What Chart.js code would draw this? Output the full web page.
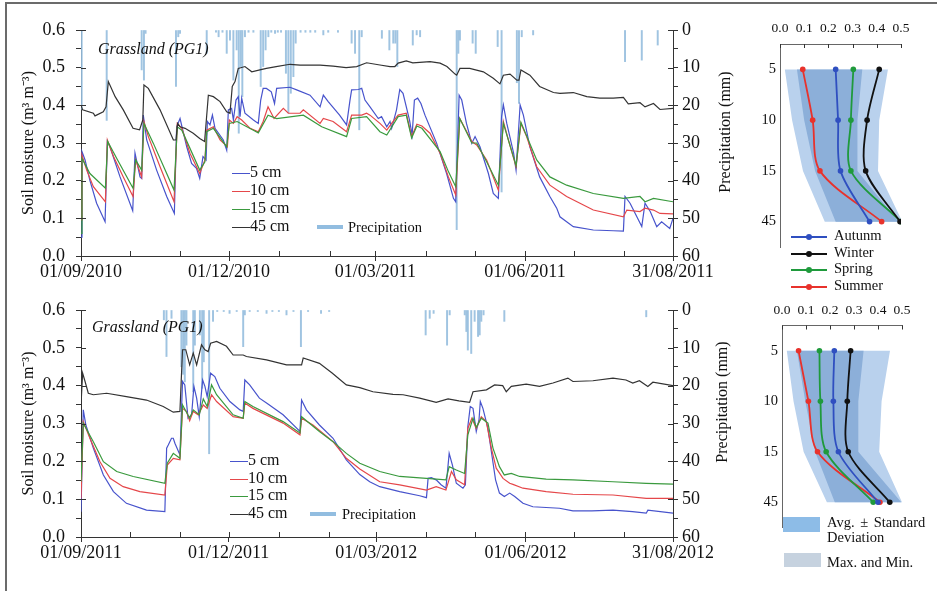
<!DOCTYPE html>
<html>
<head>
<meta charset="utf-8">
<script src="https://cdn.jsdelivr.net/npm/chart.js@4/dist/chart.umd.min.js"></script>
<style>
	body { margin: 0; background: #fff; width: 937px; height: 591px; overflow: hidden; position: relative;
		font-family: 'Liberation Serif', 'Times New Roman', serif; color: #111; }
	.box { position: absolute; }
	.frame { position: absolute; left: 5px; top: 2px; width: 960px; height: 620px;
		border-top: 2px solid #6b6b6b; border-left: 2px solid #6b6b6b; }
	.txt { position: absolute; white-space: nowrap; height: 18px; line-height: 18px; }
	.vtxt { position: absolute; white-space: nowrap; height: 20px; line-height: 20px; font-size: 16px;
		transform: translate(-50%, -50%) rotate(-90deg); }
	.line { position: absolute; height: 1px; }
	.dot { position: absolute; width: 6px; height: 6px; border-radius: 3px; }
	.swatch { position: absolute; }
</style>
</head>
<body>
<div class="frame"></div>
<div class="box" style="left:0;top:0"><canvas id="series-top" width="737" height="300"></canvas></div>
<div class="box" style="left:0;top:280px"><canvas id="series-bottom" width="737" height="301"></canvas></div>
<div class="box" style="left:740px;top:0"><canvas id="profile-top" width="197" height="300"></canvas></div>
<div class="box" style="left:740px;top:281px"><canvas id="profile-bottom" width="197" height="300"></canvas></div>
<script>
'use strict';

// ---- time series, [day since 01/09, value] ----
const SERIES_NAMES = ['5 cm', '10 cm', '15 cm', '45 cm'];
const SERIES_COLORS = ['#4753cc', '#e5474a', '#3a9a3e', '#333333'];
const PRECIP_COLOR = 'rgba(150, 190, 222, 0.9)';

const TOP_MONTH_DAYS = [0, 30, 61, 91, 122, 153, 181, 212, 242, 273, 303, 334, 364];
const TOP_LABEL_DAYS = [0, 91, 181, 273, 364];
const TOP_DATE_LABELS = ['01/09/2010', '01/12/2010', '01/03/2011', '01/06/2011', '31/08/2011'];
const BOTTOM_MONTH_DAYS = [0, 30, 61, 91, 122, 153, 182, 213, 243, 274, 304, 335, 365];
const BOTTOM_LABEL_DAYS = [0, 91, 182, 274, 365];
const BOTTOM_DATE_LABELS = ['01/09/2011', '01/12/2011', '01/03/2012', '01/06/2012', '31/08/2012'];

const top5cm = [[0,0.05],[0.6,0.277],[2.5,0.255],[5.5,0.2],[9.6,0.14],[14.8,0.091],[16.2,0.304],[17.8,0.29],[24,0.21],[31.8,0.12],[33.2,0.273],[36.3,0.21],[37.3,0.206],[38.3,0.374],[40.4,0.308],[46.5,0.228],[52.7,0.158],[57.4,0.113],[58.8,0.343],[60.9,0.365],[65,0.29],[68,0.246],[71,0.233],[73,0.206],[75,0.264],[76.9,0.255],[77.7,0.357],[79.3,0.348],[80.8,0.374],[82.4,0.339],[87.5,0.308],[89.6,0.281],[90.6,0.388],[92.6,0.392],[93.7,0.361],[95.3,0.414],[96.7,0.423],[97.8,0.37],[98.8,0.419],[100.8,0.379],[106,0.361],[109,0.352],[110.5,0.414],[112,0.445],[114,0.445],[117,0.436],[119,0.405],[120.3,0.445],[128.5,0.448],[132.6,0.441],[140.8,0.427],[147,0.396],[149,0.427],[152,0.41],[159,0.374],[163.3,0.348],[165.4,0.414],[166.4,0.441],[170.5,0.442],[172.6,0.445],[174.6,0.414],[177.7,0.396],[182.8,0.365],[184.8,0.37],[188,0.343],[190,0.357],[191,0.339],[194,0.388],[196,0.442],[198,0.432],[202,0.361],[203.6,0.321],[205,0.414],[207,0.419],[209,0.405],[211.5,0.374],[218.7,0.299],[224.8,0.219],[229,0.153],[230.4,0.144],[232.5,0.427],[234.1,0.414],[237,0.352],[240.3,0.299],[242.3,0.317],[245.3,0.29],[250.5,0.219],[253.5,0.166],[256.6,0.153],[258.6,0.37],[259.7,0.401],[261.8,0.352],[266,0.273],[267.5,0.228],[270,0.401],[272,0.374],[276,0.29],[282,0.21],[288.3,0.158],[292.5,0.127],[294.5,0.104],[302.7,0.078],[315,0.069],[327.3,0.067],[333.5,0.066],[334.5,0.158],[337.6,0.14],[344.8,0.078],[346.8,0.14],[350,0.118],[354,0.078],[357,0.091],[362,0.073],[364,0.1]];
const top10cm = [[0,0.096],[0.6,0.268],[3.5,0.228],[7.6,0.184],[15,0.144],[16.2,0.308],[20,0.264],[26,0.21],[32,0.158],[33.6,0.255],[37.3,0.21],[38.7,0.357],[41.4,0.317],[48.6,0.237],[57.2,0.144],[59.2,0.352],[62,0.339],[67,0.273],[73,0.219],[76.2,0.255],[77.3,0.334],[81.4,0.343],[85.5,0.308],[90,0.29],[91.2,0.361],[93.7,0.352],[96,0.37],[98.8,0.361],[104,0.339],[109,0.33],[112,0.357],[115,0.396],[118.7,0.365],[124.4,0.392],[127.5,0.379],[134.7,0.379],[136.7,0.388],[147,0.352],[149,0.365],[155,0.357],[163.3,0.33],[166.4,0.374],[172.6,0.374],[175.6,0.379],[177.7,0.374],[183.8,0.352],[188,0.334],[191,0.352],[195,0.374],[200,0.379],[203.3,0.317],[206.5,0.35],[209.6,0.345],[214.6,0.326],[220.8,0.273],[225.9,0.21],[230.4,0.162],[232.9,0.365],[235.6,0.343],[240.3,0.304],[243.3,0.295],[249.4,0.255],[256.6,0.175],[259.7,0.357],[262.8,0.308],[267.5,0.237],[270.5,0.352],[274,0.317],[280.2,0.237],[288.3,0.188],[298.6,0.158],[315,0.122],[333.5,0.104],[335.6,0.122],[343.7,0.118],[346.8,0.127],[352,0.122],[356,0.113],[364,0.112]];
const top15cm = [[0,0.06],[0.6,0.259],[5.5,0.219],[15,0.18],[16.4,0.304],[22,0.259],[32,0.18],[33.6,0.255],[37.3,0.228],[38.7,0.352],[44.5,0.299],[57.2,0.175],[59.2,0.343],[62,0.334],[73,0.228],[76.2,0.25],[77.3,0.33],[81.4,0.339],[89.6,0.29],[91.2,0.352],[96,0.357],[106,0.334],[109,0.327],[115,0.374],[120.3,0.365],[136.7,0.374],[148,0.343],[163.3,0.317],[166.4,0.365],[175.6,0.37],[183.8,0.33],[188,0.321],[195,0.37],[200,0.374],[203.3,0.313],[206.5,0.345],[209.6,0.339],[220.8,0.277],[225.9,0.224],[230.4,0.184],[232.9,0.365],[240.3,0.3],[243.3,0.3],[249.4,0.25],[256.6,0.188],[259.7,0.352],[267.5,0.24],[270.5,0.355],[280.2,0.255],[288.3,0.21],[298.6,0.188],[315,0.166],[333.5,0.153],[343.7,0.158],[346.8,0.144],[352,0.153],[364,0.144]];
const top45cm = [[0,0.40],[1,0.388],[7.6,0.379],[8.6,0.372],[13.7,0.383],[15.4,0.396],[16.8,0.463],[21,0.423],[26,0.388],[32,0.339],[36,0.335],[38,0.361],[38.7,0.454],[41.4,0.445],[48.6,0.388],[56.8,0.308],[58.4,0.308],[59.4,0.352],[60.9,0.343],[64,0.339],[69,0.326],[73,0.312],[76,0.304],[78.3,0.427],[81.4,0.423],[85.5,0.41],[89.6,0.383],[91.6,0.379],[93,0.45],[94.7,0.463],[96.7,0.498],[100.8,0.503],[105,0.489],[110,0.494],[114,0.498],[120,0.503],[128.5,0.509],[134.7,0.507],[147,0.507],[155,0.504],[163,0.50],[169.5,0.503],[175.6,0.513],[183.8,0.507],[190,0.503],[193,0.503],[195,0.512],[200,0.518],[204,0.513],[214.6,0.516],[220.8,0.512],[225,0.503],[230,0.483],[231,0.48],[233,0.498],[239,0.498],[247.4,0.489],[253.5,0.472],[257.6,0.457],[259.7,0.48],[263.8,0.483],[268,0.467],[269.3,0.467],[270.5,0.494],[276,0.48],[282,0.45],[290.5,0.434],[294.5,0.432],[302.7,0.434],[311,0.423],[319,0.419],[327.3,0.419],[333.5,0.421],[336.5,0.404],[343.7,0.407],[346.8,0.396],[352,0.405],[356,0.389],[364,0.392]];
const topPrecip = [[0.4,21],[15.8,24],[37.3,10.6],[38.7,13.3],[39.7,0.9],[58.4,15],[59.8,1.8],[60.9,0.9],[77.3,6.2],[83,0.6],[84.6,1.8],[87,0.6],[89.6,6.2],[91.6,2.7],[93.7,13.3],[95.7,5.3],[97,27.4],[98.2,9.7],[99.2,17.7],[100.8,1.8],[103,0.6],[106,0.6],[110.5,15],[112,9.7],[113.5,5.3],[115.2,1.8],[117,0.6],[119.3,0.9],[121,0.6],[123,0.6],[126,11.5],[127.5,22],[129,16.8],[130.6,12.4],[132,3.5],[135,0.6],[138,0.6],[141,0.6],[144,0.6],[149,1.3],[152,0.6],[158,0.6],[166.4,3.5],[168.5,6.2],[171.1,26.5],[172.6,1.8],[185,2.2],[189.6,5.3],[192,3.5],[193.3,3.5],[194.5,9.7],[204,4],[206.4,1.3],[208.5,1.8],[231,53],[232,6.2],[233,2.7],[240.8,3.5],[242.7,6.2],[256.2,4.4],[258.6,43],[268,14],[269.3,19.5],[271,1.8],[278,1.3],[334.5,8.4],[344.8,8],[354.6,4]];

const bottom5cm = [[0,0.067],[1.4,0.336],[3,0.296],[7.6,0.235],[13.8,0.164],[20,0.12],[28,0.089],[40.4,0.071],[51.7,0.067],[52.8,0.235],[53.8,0.243],[55.8,0.261],[56.9,0.261],[57.9,0.248],[61,0.217],[62.6,0.411],[64,0.402],[66,0.314],[68.2,0.323],[69.6,0.398],[71.3,0.367],[72.9,0.318],[75,0.415],[76.4,0.398],[77.8,0.371],[79.9,0.433],[82.5,0.424],[85.6,0.393],[91.8,0.358],[98,0.336],[100,0.332],[101,0.415],[104,0.402],[110,0.367],[114.4,0.354],[124.6,0.323],[135,0.279],[136,0.362],[139,0.336],[147,0.296],[155.4,0.261],[163.6,0.204],[171.9,0.165],[178,0.146],[184.2,0.133],[196.5,0.12],[208.8,0.109],[213,0.104],[214,0.155],[216,0.157],[219,0.151],[222,0.138],[225,0.129],[227,0.221],[229,0.19],[231.4,0.142],[235.5,0.129],[237,0.138],[238.5,0.292],[240,0.345],[241.7,0.34],[243.7,0.279],[245.4,0.31],[246.2,0.358],[247.8,0.34],[250.9,0.287],[253,0.226],[255.6,0.151],[258,0.116],[261,0.107],[264.3,0.116],[267.4,0.107],[272.5,0.089],[278.6,0.08],[295,0.076],[303.3,0.069],[315,0.069],[328,0.071],[340,0.067],[348.5,0.063],[349.5,0.071],[365,0.063]];
const bottom10cm = [[0,0.102],[1.4,0.305],[5.5,0.261],[11.7,0.199],[17.9,0.155],[26,0.133],[36.3,0.12],[51.7,0.111],[53.2,0.19],[56.9,0.208],[61,0.204],[62.6,0.34],[65,0.332],[67,0.307],[69.2,0.332],[72.3,0.323],[75.4,0.349],[77.8,0.34],[80.5,0.376],[83.6,0.358],[93.8,0.318],[100,0.314],[101,0.354],[106,0.34],[124.6,0.301],[135,0.27],[136,0.314],[143,0.296],[155.4,0.252],[163.6,0.208],[171.9,0.18],[184.2,0.146],[196.5,0.138],[213,0.124],[219,0.133],[225,0.124],[228.4,0.173],[231.4,0.151],[236.5,0.138],[238.5,0.287],[241,0.314],[243.7,0.287],[246.8,0.318],[249.9,0.305],[253,0.235],[256,0.182],[260.2,0.155],[264.3,0.142],[266.3,0.139],[272.5,0.129],[286.8,0.12],[303.3,0.113],[328,0.111],[348.5,0.102],[365,0.102]];
const bottom15cm = [[0,0.146],[1.4,0.301],[7.6,0.252],[13.8,0.199],[22,0.173],[32.2,0.16],[51.7,0.142],[53.2,0.195],[56.9,0.221],[61,0.208],[62.6,0.349],[67,0.314],[69.2,0.336],[72.9,0.323],[75.4,0.365],[77.8,0.345],[80.5,0.402],[83.6,0.376],[93.8,0.323],[100,0.314],[101,0.358],[106,0.345],[124.6,0.305],[135,0.275],[136,0.318],[147,0.279],[155.4,0.252],[163.6,0.221],[171.9,0.195],[184.2,0.173],[196.5,0.16],[213,0.155],[225,0.151],[227,0.186],[231.4,0.177],[236.5,0.168],[238.5,0.27],[241.7,0.314],[243.7,0.29],[246.8,0.314],[250.9,0.301],[254,0.235],[258,0.186],[261,0.164],[265.3,0.168],[270.4,0.16],[286.8,0.153],[303.3,0.151],[328,0.146],[348.5,0.142],[365,0.14]];
const bottom45cm = [[0,0.349],[1,0.433],[2.5,0.411],[4.5,0.38],[7.6,0.376],[15.8,0.38],[28,0.371],[40.4,0.362],[50.7,0.345],[56.9,0.33],[61,0.332],[62.6,0.495],[64.6,0.495],[67,0.455],[69.2,0.486],[71.3,0.455],[74.3,0.508],[76.4,0.495],[78.4,0.49],[79.9,0.512],[83.6,0.517],[89.7,0.504],[93.8,0.481],[100,0.481],[102,0.477],[114.4,0.468],[126.7,0.455],[136,0.455],[137,0.473],[147,0.459],[155,0.433],[163.6,0.402],[171.9,0.395],[180,0.384],[192.4,0.377],[198.6,0.376],[208.8,0.367],[219,0.356],[226.3,0.365],[233,0.36],[239.6,0.356],[241.7,0.384],[250,0.389],[255,0.402],[260,0.40],[262.2,0.384],[265.3,0.398],[274.5,0.404],[282.7,0.398],[291,0.407],[300.2,0.42],[303.3,0.411],[315.6,0.413],[328,0.42],[336,0.415],[340.2,0.407],[344.3,0.413],[349.5,0.398],[352.6,0.409],[365,0.40]];
const bottomPrecip = [[51.1,2.6],[52.7,12.3],[55.8,2.2],[61.9,15],[63,17],[64,19],[65,9.3],[69.2,21.6],[70.2,9.3],[73.3,6.6],[74.7,20.7],[75.7,13.7],[79,38],[81.4,3],[84,0.4],[88,0.4],[91.6,0.9],[96,0.4],[100,9.7],[101,1.3],[104,0.4],[109,0.4],[114.4,0.9],[118,0.4],[122,0.4],[126.7,1.3],[131,0.4],[135.6,9.7],[140,0.4],[148,0.9],[153,0.4],[212.5,6.6],[215,2.2],[217.4,0.9],[225.7,9.3],[227.3,1.3],[236.6,1.3],[237.6,5.7],[238.5,10.6],[240.6,11.5],[242.7,3],[244.8,7],[245.8,6.6],[246.8,3],[248.2,1.3],[261,3],[348.5,1.8]];

// ---- depth profiles (m3 m-3) ----
const DEPTHS = ['5', '10', '15', '45'];
const SEASONS = ['Autunm', 'Winter', 'Spring', 'Summer'];
const SEASON_COLORS = ['#2f4fc0', '#111111', '#1f9a3c', '#e8322c'];
const BAND_COLORS = { sd: '#8cafd9', range: '#b9d1ed' };

const topAutumn = [0.23, 0.24, 0.25, 0.37];
const topWinter = [0.41, 0.36, 0.354, 0.496];
const topSpring = [0.303, 0.293, 0.293, 0.5];
const topSummer = [0.094, 0.135, 0.165, 0.42];
const topRangeLow = [0.02, 0.05, 0.095, 0.185];
const topRangeHigh = [0.446, 0.41, 0.405, 0.505];
const topSdLow = [0.07, 0.1, 0.145, 0.23];
const topSdHigh = [0.34, 0.32, 0.32, 0.49];

const bottomAutumn = [0.218, 0.214, 0.235, 0.40];
const bottomWinter = [0.286, 0.272, 0.276, 0.449];
const bottomSpring = [0.156, 0.16, 0.184, 0.38];
const bottomSummer = [0.069, 0.11, 0.148, 0.408];
const bottomRangeLow = [0.02, 0.048, 0.09, 0.187];
const bottomRangeHigh = [0.45, 0.415, 0.405, 0.5];
const bottomSdLow = [0.062, 0.097, 0.138, 0.22];
const bottomSdHigh = [0.34, 0.318, 0.318, 0.497];

Chart.defaults.font.family = "'Liberation Serif', 'Times New Roman', serif";
Chart.defaults.color = '#111';

const AXIS_COLOR = '#333';

//draws the short tick marks that point into the plot
const innerTicks = {
	id: 'innerTicks',
	afterDatasetsDraw(chart, args, opts) {
		const { ctx, chartArea } = chart;
		const len = opts.length || 5;
		ctx.save();
		ctx.strokeStyle = AXIS_COLOR;
		ctx.lineWidth = 1;
		Object.keys(opts.scales || {}).forEach((id) => {
			const scale = chart.scales[id];
			const mode = opts.scales[id];
			scale.ticks.forEach((tick) => {
				if (mode === 'major' && !tick.label) {
					return;
				}
				const p = Math.round(scale.getPixelForValue(tick.value)) + 0.5;
				ctx.beginPath();
				switch (scale.position) {
					case 'left':
						ctx.moveTo(chartArea.left, p);
						ctx.lineTo(chartArea.left + len, p);
						break;
					case 'right':
						ctx.moveTo(chartArea.right, p);
						ctx.lineTo(chartArea.right - len, p);
						break;
					case 'bottom':
						ctx.moveTo(p, chartArea.bottom);
						ctx.lineTo(p, chartArea.bottom - len);
						break;
					default:
						ctx.moveTo(p, chartArea.top);
						ctx.lineTo(p, chartArea.top + len);
						break;
				}
				ctx.stroke();
			});
		});
		ctx.restore();
	},
};

function toPoints(pairs) {
	return pairs.map(([x, y]) => ({ x, y }));
}

function isTenth(v) {
	return Math.abs(Math.round(v * 10) - v * 10) < 1e-6;
}

function buildSeriesDatasets(series, precip) {
	const datasets = series.map((pairs, i) => ({
		type: 'line',
		label: SERIES_NAMES[i],
		data: toPoints(pairs),
		borderColor: SERIES_COLORS[i],
		borderWidth: 1.2,
		pointRadius: 0,
		tension: 0,
		yAxisID: 'y',
		order: 4 - i,
	}));
	datasets.push({
		type: 'bar',
		label: 'Precipitation',
		data: toPoints(precip),
		backgroundColor: PRECIP_COLOR,
		barThickness: 1.3,
		yAxisID: 'y2',
		order: 10,
	});
	return datasets;
}

function getSeriesX(monthDays, labelDays, labels) {
	return {
		type: 'linear',
		position: 'bottom',
		offset: false,
		min: 0,
		max: monthDays[monthDays.length - 1],
		afterBuildTicks: (scale) => {
			scale.ticks = monthDays.map((v) => ({ value: v }));
		},
		afterFit: (scale) => {
			scale.height = 40;
		},
		ticks: {
			autoSkip: false,
			maxRotation: 0,
			padding: 0,
			font: { size: 18 },
			callback: (value) => {
				const i = labelDays.indexOf(value);
				return i >= 0 ? labels[i] : '';
			},
		},
		grid: {
			offset: false,
			drawOnChartArea: false,
			tickLength: 5,
			color: (c) => (c.tick && labelDays.includes(c.tick.value) ? AXIS_COLOR : 'rgba(0,0,0,0)'),
		},
		border: { color: AXIS_COLOR },
	};
}

function getSeriesY() {
	return {
		type: 'linear',
		position: 'left',
		min: 0,
		max: 0.6,
		afterFit: (scale) => {
			scale.width = 81;
		},
		ticks: {
			stepSize: 0.05,
			autoSkip: false,
			padding: 11,
			font: { size: 18 },
			callback: (v) => (isTenth(v) ? v.toFixed(1) : ''),
		},
		grid: { drawOnChartArea: false, tickLength: 5, color: AXIS_COLOR },
		border: { color: AXIS_COLOR },
		title: {
			display: true,
			text: 'Soil moisture (m³ m⁻³)',
			font: { size: 16 },
			padding: { top: 19, bottom: 0 },
		},
	};
}

function getSeriesY2() {
	return {
		type: 'linear',
		position: 'right',
		reverse: true,
		min: 0,
		max: 60,
		afterFit: (scale) => {
			scale.width = 64;
		},
		ticks: {
			stepSize: 5,
			autoSkip: false,
			padding: 4,
			font: { size: 18 },
			callback: (v) => (v % 10 === 0 ? String(v) : ''),
		},
		grid: { drawOnChartArea: false, tickLength: 5, color: AXIS_COLOR },
		border: { color: AXIS_COLOR },
	};
}

function makeSeriesChart(id, series, precip, monthDays, labelDays, labels) {
	const ctx = document.querySelector(id).getContext('2d');
	return new Chart(ctx, {
		type: 'line',
		data: { datasets: buildSeriesDatasets(series, precip) },
		options: {
			responsive: false,
			animation: false,
			events: [],
			layout: { padding: { top: 30, bottom: 4, left: 0, right: 0 } },
			scales: {
				x: getSeriesX(monthDays, labelDays, labels),
				y: getSeriesY(),
				y2: getSeriesY2(),
			},
			plugins: {
				legend: { display: false },
				tooltip: { enabled: false },
				innerTicks: { scales: { x: 'all', y: 'major', y2: 'major' } },
			},
		},
		plugins: [innerTicks],
	});
}

function bandPolygon(low, high) {
	const left = low.map((v, i) => ({ x: v, y: DEPTHS[i] }));
	const right = high.map((v, i) => ({ x: v, y: DEPTHS[i] })).reverse();
	return left.concat(right);
}

function buildProfileDatasets(seasons, sdLow, sdHigh, rangeLow, rangeHigh) {
	const datasets = seasons.map((values, i) => ({
		label: SEASONS[i],
		data: values.map((v, j) => ({ x: v, y: DEPTHS[j] })),
		borderColor: SEASON_COLORS[i],
		backgroundColor: SEASON_COLORS[i],
		borderWidth: 1.8,
		pointRadius: 2.8,
		pointBorderWidth: 0,
		tension: 0.3,
		order: 0,
	}));
	datasets.push({
		label: 'Avg. ± Standard Deviation',
		data: bandPolygon(sdLow, sdHigh),
		borderColor: 'rgba(0,0,0,0)',
		borderWidth: 0,
		backgroundColor: BAND_COLORS.sd,
		pointRadius: 0,
		fill: 'shape',
		order: 1,
	});
	datasets.push({
		label: 'Max. and Min.',
		data: bandPolygon(rangeLow, rangeHigh),
		borderColor: 'rgba(0,0,0,0)',
		borderWidth: 0,
		backgroundColor: BAND_COLORS.range,
		pointRadius: 0,
		fill: 'shape',
		order: 2,
	});
	return datasets;
}

function makeProfileChart(id, datasets, box) {
	const ctx = document.querySelector(id).getContext('2d');
	return new Chart(ctx, {
		type: 'line',
		data: { datasets },
		options: {
			responsive: false,
			animation: false,
			events: [],
			layout: { padding: { top: 0, left: 0, right: box.right, bottom: box.bottom } },
			scales: {
				x: {
					type: 'linear',
					position: 'top',
					min: 0,
					max: 0.5,
					afterFit: (scale) => {
						scale.height = box.top;
					},
					ticks: { stepSize: 0.1, padding: 7, font: { size: 13.5 }, callback: (v) => v.toFixed(1) },
					grid: { drawOnChartArea: false, drawTicks: false },
					border: { color: '#666' },
				},
				y: {
					type: 'category',
					labels: DEPTHS,
					position: 'left',
					offset: true,
					afterFit: (scale) => {
						scale.width = box.left;
					},
					ticks: { padding: 4, font: { size: 14.5 } },
					grid: { drawOnChartArea: false, drawTicks: false },
					border: { color: '#666' },
				},
			},
			plugins: {
				legend: { display: false },
				tooltip: { enabled: false },
				innerTicks: { length: 4, scales: { x: 'all' } },
			},
		},
		plugins: [innerTicks],
	});
}

// ---- plain html text around the canvases ----
function addText(text, left, centerY, size, style) {
	const el = document.createElement('div');
	el.className = 'txt';
	el.textContent = text;
	el.style.left = left + 'px';
	el.style.top = (centerY - 9) + 'px';
	el.style.fontSize = size + 'px';
	if (style) {
		Object.assign(el.style, style);
	}
	document.body.appendChild(el);
	return el;
}

function addVerticalText(text, cx, cy) {
	const el = document.createElement('div');
	el.className = 'vtxt';
	el.textContent = text;
	el.style.left = cx + 'px';
	el.style.top = cy + 'px';
	document.body.appendChild(el);
}

function addBlock(cls, left, top, width, height, color) {
	const el = document.createElement('div');
	el.className = cls;
	el.style.left = left + 'px';
	el.style.top = top + 'px';
	el.style.width = width + 'px';
	el.style.height = height + 'px';
	el.style.background = color;
	document.body.appendChild(el);
}

function addSeriesLegend(lineLeft, rows, precipLeft, precipTextLeft) {
	SERIES_NAMES.forEach((name, i) => {
		addBlock('line', lineLeft, Math.round(rows[i]), 18, 1, SERIES_COLORS[i]);
		addText(name, lineLeft + 18, rows[i] - 1, 16);
	});
	addBlock('swatch', precipLeft, Math.round(rows[3]) - 2, 26, 4, 'rgba(140,185,222,0.95)');
	addText('Precipitation', precipTextLeft, rows[3], 14.5);
}

function addSeasonLegend(rows) {
	SEASONS.forEach((name, i) => {
		addBlock('line', 791, Math.round(rows[i]), 36, 2, SEASON_COLORS[i]);
		addBlock('dot', 806, Math.round(rows[i]) - 2, 6, 6, SEASON_COLORS[i]);
		addText(name, 834, rows[i] - 1, 14.5);
	});
}

function addBandLegend() {
	addBlock('swatch', 783, 517, 37, 15, '#8dbce7');
	addText('Avg.  ±  Standard', 827, 522, 14.5, { wordSpacing: '2px' });
	addText('Deviation', 827, 537, 14.5);
	addBlock('swatch', 784, 553, 37, 14, '#c6d2df');
	addText('Max. and Min.', 827, 562, 14.5);
}

makeSeriesChart('#series-top', [top5cm, top10cm, top15cm, top45cm], topPrecip,
	TOP_MONTH_DAYS, TOP_LABEL_DAYS, TOP_DATE_LABELS);
makeSeriesChart('#series-bottom', [bottom5cm, bottom10cm, bottom15cm, bottom45cm], bottomPrecip,
	BOTTOM_MONTH_DAYS, BOTTOM_LABEL_DAYS, BOTTOM_DATE_LABELS);

makeProfileChart('#profile-top',
	buildProfileDatasets([topAutumn, topWinter, topSpring, topSummer], topSdLow, topSdHigh, topRangeLow, topRangeHigh),
	{ left: 40, top: 44, right: 36, bottom: 53 });
makeProfileChart('#profile-bottom',
	buildProfileDatasets([bottomAutumn, bottomWinter, bottomSpring, bottomSummer], bottomSdLow, bottomSdHigh, bottomRangeLow, bottomRangeHigh),
	{ left: 42, top: 44.5, right: 35, bottom: 53.5 });

addText('Grassland (PG1)', 98, 49, 16, { fontStyle: 'italic' });
addText('Grassland (PG1)', 92, 327, 16, { fontStyle: 'italic' });
addVerticalText('Precipitation (mm)', 725, 132);
addVerticalText('Precipitation (mm)', 722, 402);
addSeriesLegend(232, [173, 191, 208.5, 227], 317, 348);
addSeriesLegend(230, [461, 478.5, 496, 514], 310, 342);
addSeasonLegend([235.5, 252.5, 269, 285.5]);
addBandLegend();
</script>
</body>
</html>
